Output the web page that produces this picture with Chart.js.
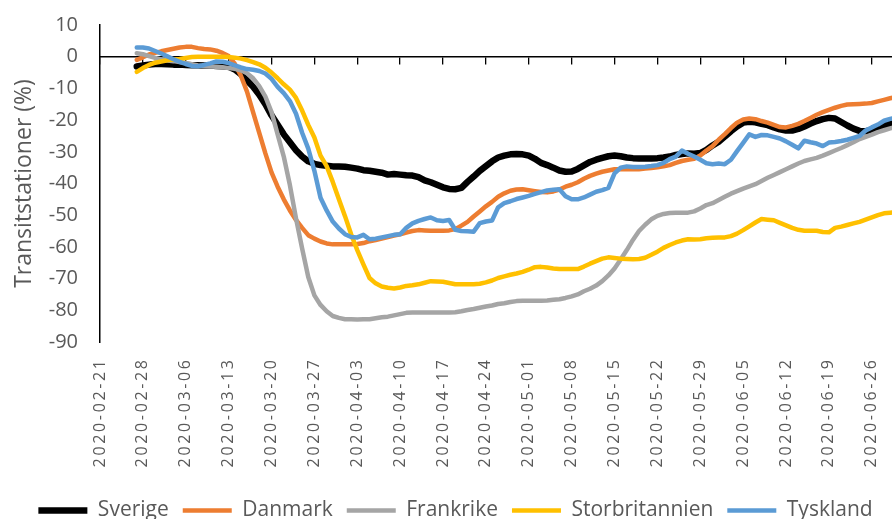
<!DOCTYPE html>
<html lang="sv">
  <head>
    <meta charset="utf-8" />
    <script src="https://cdn.jsdelivr.net/npm/chart.js"></script>
    <style>
      html,
      body {
        margin: 0;
        padding: 0;
        overflow: hidden;
        background: #fff;
      }
    </style>
    <title>Transitstationer</title>
  </head>

  <body>
    <canvas id="myChart" width="911" height="531"></canvas>

    <script>
      // första datum med värden, sedan ett värde per dag
      const firstDate = "2020-02-27";
      const axisStart = "2020-02-21";

      // veckoetiketter på x-axeln
      const weekLabels = [
        "2020-02-21", "2020-02-28", "2020-03-06", "2020-03-13", "2020-03-20",
        "2020-03-27", "2020-04-03", "2020-04-10", "2020-04-17", "2020-04-24",
        "2020-05-01", "2020-05-08", "2020-05-15", "2020-05-22", "2020-05-29",
        "2020-06-05", "2020-06-12", "2020-06-19", "2020-06-26",
      ];

      const sverige = [
        -3.1, -2.8, -2.5, -2.3, -2.3, -2.4, -2.5, -2.5, -2.6, -2.7,
        -2.7, -2.8, -2.8, -2.9, -3.0, -3.2, -4.0, -5.5, -7.5, -9.5,
        -12, -15, -18.5, -21.5, -24.5, -27, -29.5, -31.5, -33, -33.8,
        -34.2, -34.4, -34.6, -34.6, -34.7, -35, -35.3, -35.8, -36, -36.3,
        -36.6, -37.2, -37, -37.2, -37.4, -37.5, -38, -39, -39.6, -40.4,
        -41.2, -41.7, -41.8, -41.4, -39.5, -37.8, -36, -34.5, -33, -31.8,
        -31.2, -30.8, -30.7, -30.8, -31.2, -32.2, -33.5, -34.2, -35, -35.9,
        -36.3, -36.2, -35.4, -34.3, -33.2, -32.5, -31.9, -31.4, -31.2, -31.4,
        -31.8, -32, -32.1, -32.1, -32.1, -32, -31.8, -31.5, -31, -30.7,
        -30.5, -30.6, -30.4, -29.4, -28, -26.8, -25.2, -23.5, -22, -20.8,
        -20.5, -20.7, -21.2, -21.6, -22.3, -22.9, -23.3, -23.3, -22.8, -22,
        -21.1, -20.3, -19.7, -19.3, -19.5, -20.6, -21.7, -22.7, -23.4, -23.5,
        -23.1, -22.5, -21.8, -21.2, -20.8,
      ];

      const danmark = [
        -1, -0.2, 0.7, 1.2, 1.7, 2.1, 2.5, 2.9, 3.1, 3.1,
        2.7, 2.4, 2.3, 1.9, 1.2, 0.2, -2.2, -6, -11, -17.6,
        -24, -30.5, -36.5, -41, -45, -48.5, -51.5, -54, -56.3, -57.4,
        -58.3, -58.9, -59.2, -59.2, -59.2, -59.2, -59.1, -58.8, -58.2, -57.8,
        -57.4, -56.9, -56.4, -56, -55.5, -55, -54.7, -54.8, -54.9, -54.9,
        -54.9, -54.8, -54.4, -53.3, -52.1, -50.4, -48.8, -47.2, -45.8, -44.2,
        -43.1, -42.3, -41.9, -41.8, -42.1, -42.4, -42.7, -42.8, -42.5, -41.9,
        -41, -40.4, -39.6, -38.5, -37.6, -36.9, -36.3, -35.9, -35.5, -35.5,
        -35.5, -35.5, -35.5, -35.3, -35.1, -34.9, -34.6, -34.2, -33.5, -32.9,
        -32.5, -32.2, -31.2, -29.6, -28.2, -26.2, -24.4, -22.5, -20.8, -19.8,
        -19.5, -19.7, -20.3, -20.8, -21.5, -22.2, -22.3, -21.8, -21.2, -20.3,
        -19.3, -18.3, -17.5, -16.8, -16.1, -15.5, -15.1, -15, -14.9, -14.8,
        -14.6, -14.1, -13.6, -13.1, -12.7,
      ];

      const frankrike = [
        1.1, 0.8, 0.2, -0.4, -0.9, -1.2, -1.4, -1.7, -2, -2.4,
        -2.8, -3, -3.1, -3.2, -3.3, -3.6, -3.8, -4.3, -5.2, -6.8,
        -9.3, -12.6, -17.5, -24.5, -31.5, -40.5, -51, -60.5, -69.5, -75.3,
        -78.3, -80.3, -81.8, -82.4, -82.8, -82.8, -82.9, -82.8, -82.8, -82.5,
        -82.2, -82, -81.6, -81.2, -80.8, -80.7, -80.7, -80.7, -80.7, -80.7,
        -80.7, -80.7, -80.6, -80.3, -79.9, -79.6, -79.2, -78.8, -78.5, -78,
        -77.8, -77.4, -77.1, -77, -77, -77, -77, -76.9, -76.7, -76.5,
        -76.1, -75.6, -75, -74, -73.2, -72.2, -70.8, -69, -66.8, -64,
        -61, -57.8, -55, -53, -51.3, -50.2, -49.6, -49.3, -49.2, -49.2,
        -49.2, -48.8, -47.9, -46.8, -46.2, -45.2, -44.2, -43.2, -42.4, -41.6,
        -40.9, -40.2, -39.2, -38.2, -37.3, -36.4, -35.5, -34.6, -33.7, -32.9,
        -32.4, -31.9, -31.2, -30.4, -29.6, -28.8, -27.9, -27, -26, -25.3,
        -24.6, -23.8, -23.2, -22.6, -22.1,
      ];

      const storbritannien = [
        -4.8, -3.6, -2.6, -1.9, -1.5, -1.1, -0.9, -0.7, -0.4, -0.1,
        0, 0, 0, 0, 0, -0.1, -0.3, -0.6, -1.1, -1.7,
        -2.4, -3.5, -5, -6.8, -8.7, -10.4, -13, -17, -21.5, -25.5,
        -31.2, -34.5, -39.5, -45, -50.3, -56, -61, -65.5, -69.8, -71.5,
        -72.5, -72.9, -73.1, -72.8, -72.3, -72.1, -71.8, -71.3, -70.8, -70.9,
        -71, -71.4, -71.8, -71.8, -71.8, -71.8, -71.6, -71.2, -70.6, -69.8,
        -69.3, -68.8, -68.4, -67.9, -67.2, -66.4, -66.3, -66.5, -66.8, -67,
        -67, -67, -67, -66.2, -65.3, -64.5, -63.7, -63.3, -63.5, -63.7,
        -63.8, -63.9, -63.8, -63.4, -62.5, -61.5, -60.3, -59.4, -58.6, -58,
        -57.6, -57.7, -57.6, -57.3, -57.1, -57, -57, -56.6, -55.8, -54.7,
        -53.5, -52.3, -51.2, -51.4, -51.6, -52.4, -53.2, -54, -54.6, -54.9,
        -54.9, -54.9, -55.3, -55.4, -54, -53.6, -53.1, -52.6, -52.1, -51.4,
        -50.7, -50, -49.4, -49.2, -49,
      ];

      const tyskland = [
        2.9, 2.9, 2.6, 1.8, 1, 0.1, -0.8, -1.6, -2.3, -2.9,
        -3, -2.6, -2.1, -1.5, -1.6, -2, -2.7, -3.4, -3.9, -4.1,
        -4.5, -5.3, -7, -9.5, -11.5, -14, -18, -24, -29, -36,
        -44.5, -48.5, -52, -54.2, -56, -56.9, -57, -56.2, -57.6, -57.4,
        -57, -56.6, -56.2, -56, -54, -52.6, -51.8, -51.2, -50.7, -51.6,
        -51.8, -51.5, -54.6, -55, -55.1, -55.2, -52.5, -52, -51.7, -47.5,
        -46.2, -45.6, -44.9, -44.4, -43.9, -43.3, -42.7, -42.2, -42, -41.8,
        -44, -45, -45, -44.4, -43.5, -42.6, -42.1, -41.4, -36.8, -35,
        -34.6, -34.8, -34.8, -34.7, -34.5, -34.2, -33.5, -32.3, -31.5, -29.6,
        -30.6, -31.5, -32.5, -33.6, -33.9, -33.7, -33.9, -32.5, -29.8, -27.2,
        -24.5, -25.3, -24.7, -24.8, -25.3, -25.8, -26.7, -27.8, -28.9, -26.5,
        -27, -27.4, -28.2, -27.1, -26.9, -26.6, -26.2, -25.6, -25, -23.3,
        -22.3, -21.4, -20.2, -19.6, -19.2,
      ];

      const DAY = 86400000;
      const startOffset = (Date.parse(firstDate) - Date.parse(axisStart)) / DAY;
      const xMax = 132.4;

      // dag-index på x-axeln
      function toPoints(values) {
        return values.map((v, i) => ({ x: startOffset + i, y: v }));
      }

      function spaced(text) {
        return text.split("").join("\u2009");
      }

      const grey = "#595959";
      const font = "'Open Sans', 'DejaVu Sans', sans-serif";

      const series = [
        { label: "Sverige", data: sverige, color: "#000000", width: 6.5 },
        { label: "Danmark", data: danmark, color: "#ED7D31", width: 4.5 },
        { label: "Frankrike", data: frankrike, color: "#A5A5A5", width: 4.5 },
        { label: "Storbritannien", data: storbritannien, color: "#FFC000", width: 4.5 },
        { label: "Tyskland", data: tyskland, color: "#5B9BD5", width: 4.5 },
      ];

      const ctx = document.getElementById("myChart");
      new Chart(ctx, {
        type: "line",
        data: {
          datasets: series.map((s, i) => ({
            label: s.label,
            data: toPoints(s.data),
            borderColor: s.color,
            backgroundColor: s.color,
            borderWidth: s.width,
            borderCapStyle: "round",
            borderJoinStyle: "round",
            pointRadius: 0,
            tension: 0,
            // senare serier ritas överst som i Excel
            order: series.length - i,
          })),
        },
        options: {
          responsive: false,
          animation: false,
          layout: { padding: { top: 25, left: 0, right: 0, bottom: 0 } },
          plugins: {
            tooltip: { enabled: false },
            legend: {
              position: "bottom",
              labels: {
                usePointStyle: true,
                pointStyle: "line",
                pointStyleWidth: 49,
                padding: 14,
                color: grey,
                font: { family: font, size: 21 },
                sort: (a, b) => a.datasetIndex - b.datasetIndex,
              },
            },
          },
          scales: {
            x: {
              type: "linear",
              position: "bottom",
              min: 0,
              max: xMax,
              afterFit: (scale) => {
                scale.height = 144;
              },
              grid: { display: false, drawTicks: false },
              border: { display: false },
              ticks: {
                stepSize: 7,
                maxTicksLimit: 30,
                includeBounds: false,
                autoSkip: false,
                minRotation: 90,
                maxRotation: 90,
                padding: 18,
                color: grey,
                font: { family: font, size: 16 },
                callback: (value) => spaced(weekLabels[Math.round(value / 7)] || ""),
              },
            },
            x2: {
              type: "linear",
              position: { y: 0 },
              min: 0,
              max: xMax,
              grid: {
                drawOnChartArea: false,
                drawTicks: true,
                tickLength: 7,
                color: "#000000",
                lineWidth: 1.3,
              },
              border: { display: true, color: "#000000", width: 1.5 },
              ticks: {
                display: false,
                stepSize: 7,
                maxTicksLimit: 30,
                includeBounds: false,
              },
            },
            y: {
              min: -90,
              max: 10,
              afterFit: (scale) => {
                scale.width = 100;
                // bara halva etiketthöjden ovanför diagrammet
                scale.paddingTop = 12;
                scale.paddingBottom = 12;
              },
              grid: { display: false, drawTicks: false },
              border: { display: true, color: "#000000", width: 1.5 },
              ticks: {
                stepSize: 10,
                maxTicksLimit: 20,
                autoSkip: false,
                padding: 22,
                color: grey,
                font: { family: font, size: 20 },
              },
              title: {
                display: true,
                text: "Transitstationer (%)",
                color: grey,
                padding: { top: 11, bottom: 0 },
                font: { family: font, size: 23 },
              },
            },
          },
        },
      });
    </script>
  </body>
</html>
